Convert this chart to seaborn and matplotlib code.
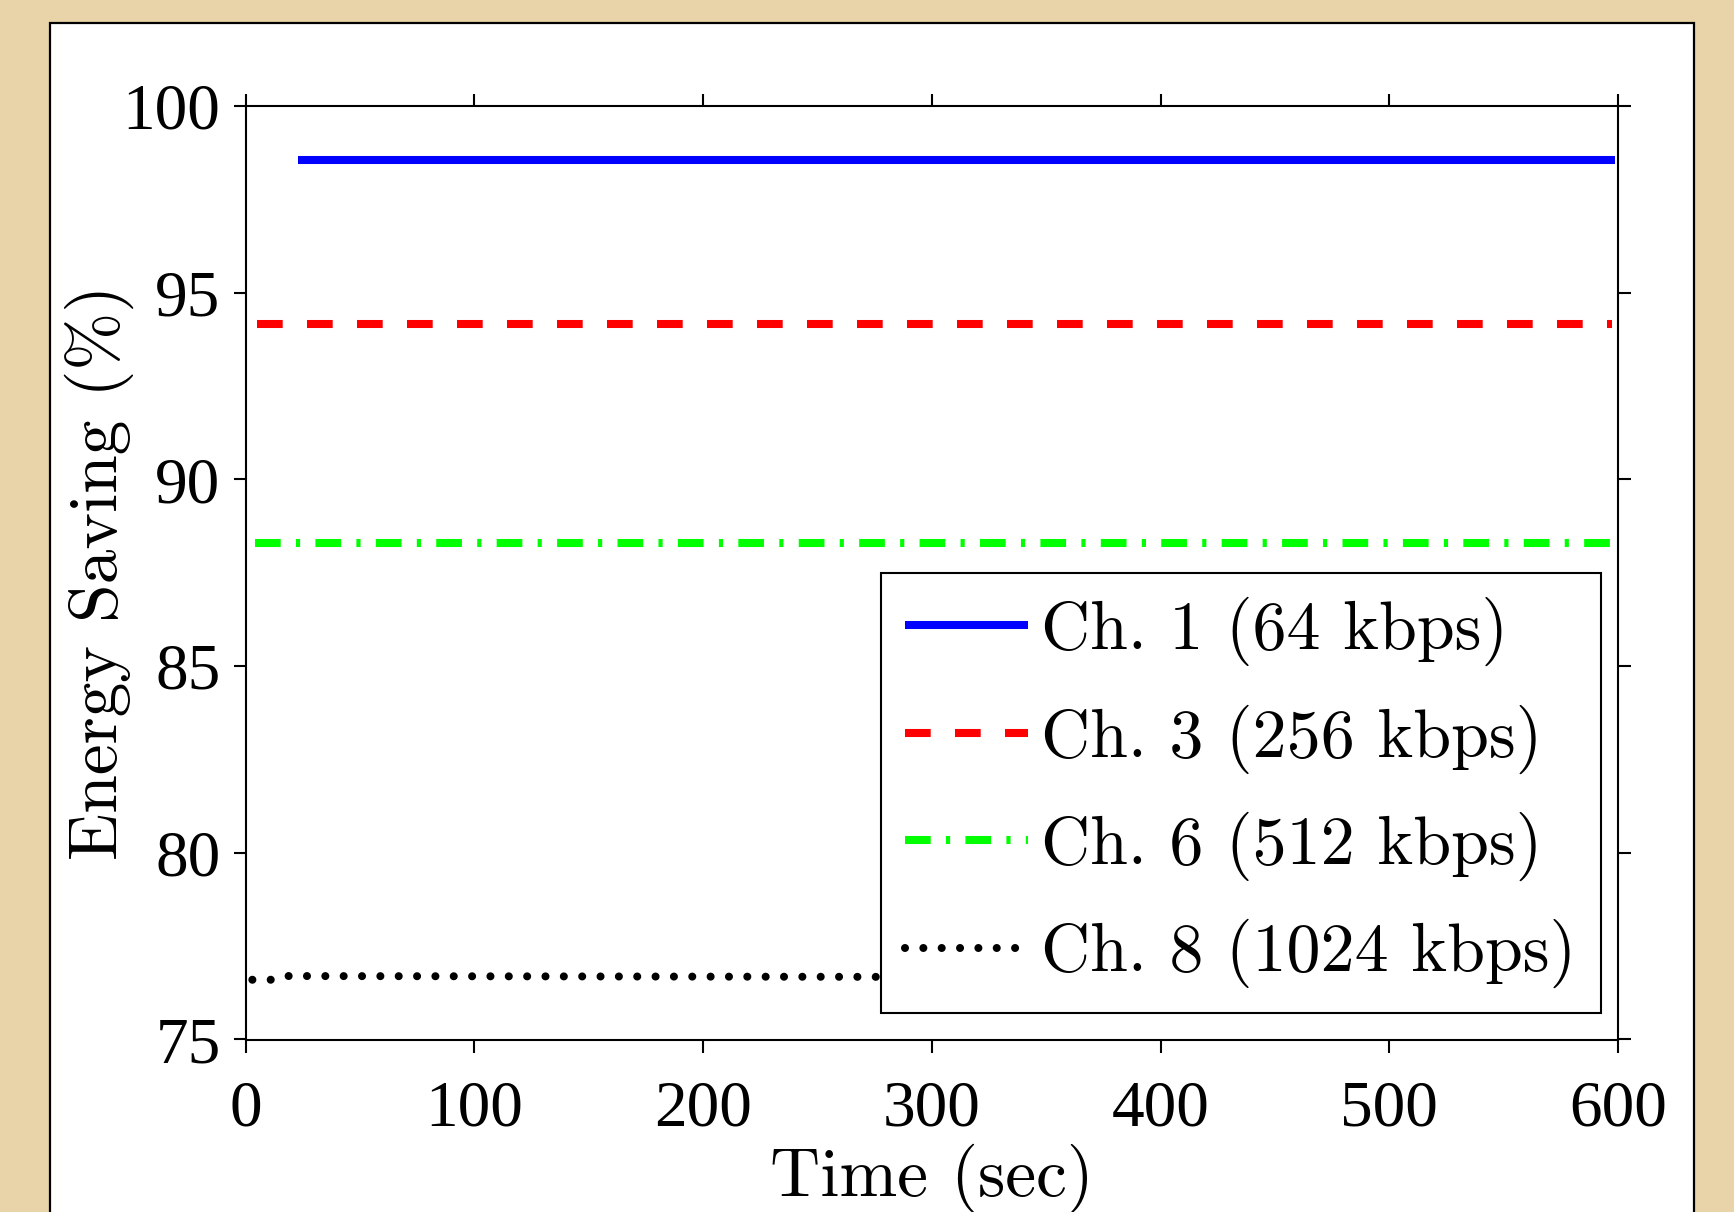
import matplotlib
matplotlib.use("Agg")
import matplotlib.pyplot as plt
from matplotlib.patches import Rectangle
import seaborn as sns

# values
ch1_time = [23, 598.5]
ch1_saving = [98.55, 98.55]
ch3_time = [5, 597.5]
ch3_saving = [94.15, 94.15]
ch6_time = [4, 597.5]
ch6_saving = [88.3, 88.3]
ch8_time = [3, 11, 18, 595]
ch8_saving = [76.6, 76.6, 76.7, 76.65]
labels = ["Ch. 1 (64 kbps)", "Ch. 3 (256 kbps)", "Ch. 6 (512 kbps)", "Ch. 8 (1024 kbps)"]
x_ticks = [0, 100, 200, 300, 400, 500, 600]
y_ticks = [75, 80, 85, 90, 95, 100]

sns.set_style("ticks")
plt.rcParams["lines.scale_dashes"] = False
plt.rcParams["font.family"] = ["cmr10", "DejaVu Serif"]
plt.rcParams["text.color"] = "black"
plt.rcParams["axes.labelcolor"] = "black"

fig = plt.figure(figsize=(17.34, 12.12), dpi=100, facecolor="#E8D4A8")
# white page panel behind the axes
fig.patches.append(Rectangle((50 / 1734, -0.02), 1644 / 1734, 1.02 - 23 / 1212,
                             transform=fig.transFigure, facecolor="white",
                             edgecolor="black", linewidth=1.6, zorder=-10))
ax = fig.add_axes([245.5 / 1734, 1 - 1039.5 / 1212, 1372.5 / 1734, 933.5 / 1212])
ax.set_facecolor("white")

lw = 5.8
sns.lineplot(x=ch1_time, y=ch1_saving, ax=ax, color="#0000FF", linewidth=lw,
             label=labels[0], solid_capstyle="butt")
sns.lineplot(x=ch3_time, y=ch3_saving, ax=ax, color="#FF0000", linewidth=lw,
             linestyle=(0, (18.5, 17.5)), dash_capstyle="butt", label=labels[1])
sns.lineplot(x=ch6_time, y=ch6_saving, ax=ax, color="#00FF00", linewidth=lw,
             linestyle=(0, (18.5, 11, 3, 11)), dash_capstyle="butt", label=labels[2])
sns.lineplot(x=ch8_time, y=ch8_saving, ax=ax, color="black", linewidth=5.8,
             linestyle=(0, (0.01, 13.2)), dash_capstyle="round", label=labels[3])

ax.set_xlim(0, 600)
ax.set_ylim(75, 100)
ax.set_xticks(x_ticks)
ax.set_yticks(y_ticks)
for s in ax.spines.values():
    s.set_linewidth(1.5)
    s.set_color("black")
ax.tick_params(axis="both", which="both", direction="out", length=9, width=1.5,
               top=True, right=True, labelsize=47, colors="black")
ax.tick_params(axis="x", pad=20)
ax.tick_params(axis="y", pad=9)
for t in ax.get_xticklabels() + ax.get_yticklabels():
    t.set_fontfamily("Liberation Serif")

ax.set_xlabel("Time (sec)", fontsize=50, labelpad=3)
ax.set_ylabel("Energy Saving (%)", fontsize=50, labelpad=-8)

leg = ax.legend(loc="lower right", bbox_to_anchor=(0.9876, 0.0284), borderaxespad=0,
                fontsize=49, handlelength=1.8, handletextpad=0.2, labelspacing=0.56,
                borderpad=0.36, fancybox=False, framealpha=1, edgecolor="black")
leg.get_frame().set_linewidth(1.5)

fig.savefig("out.png", dpi=100, facecolor=fig.get_facecolor())
plt.close(fig)
